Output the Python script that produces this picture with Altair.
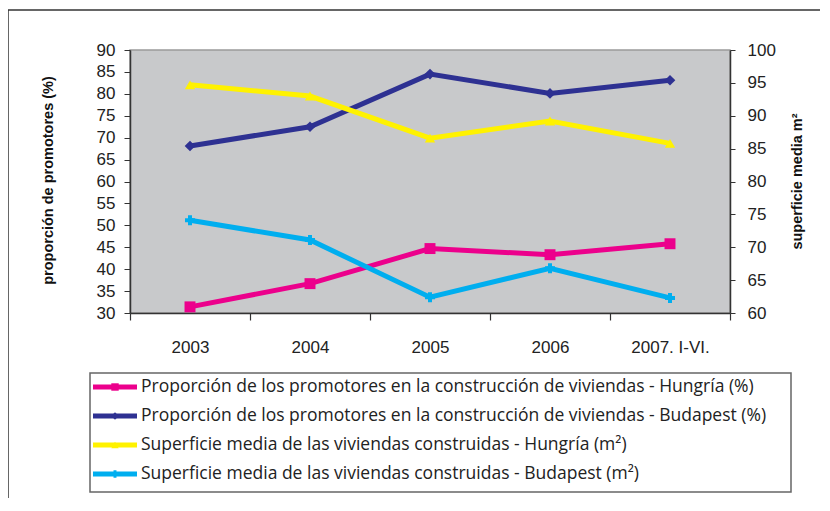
import altair as alt
import pandas as pd

years = ["2003", "2004", "2005", "2006", "2007. I-VI."]
series_names = [
    "Proporción de los promotores en la construcción de viviendas - Hungría (%)",
    "Proporción de los promotores en la construcción de viviendas - Budapest (%)",
    "Superficie media de las viviendas construidas - Hungría (m²)",
    "Superficie media de las viviendas construidas - Budapest (m²)",
]
prop_hungria = [31.4, 36.7, 44.7, 43.3, 45.8]
prop_budapest = [68.1, 72.5, 84.5, 80.1, 83.1]
sup_hungria = [94.7, 93.0, 86.6, 89.2, 85.8]
sup_budapest = [74.1, 71.1, 62.4, 66.8, 62.3]
colors = ["#EC008C", "#2E3192", "#FFF200", "#00AEEF"]
shapes = ["square", "diamond", "triangle-up", "cross"]
marker_sizes = [120, 100, 190, 50]
left_ticks = list(range(30, 91, 5))
right_ticks = list(range(60, 101, 5))

FONT = "Liberation Sans"
TEXT_FONT = "Open Sans"


def long_df(names, arrays):
    rows = []
    for name, arr in zip(names, arrays):
        for y, v in zip(years, arr):
            rows.append({"year": y, "series": name, "value": v})
    return pd.DataFrame(rows)


left_df = long_df(series_names[:2], [prop_hungria, prop_budapest])
right_df = long_df(series_names[2:], [sup_hungria, sup_budapest])
legend_df = pd.DataFrame({"series": series_names, "row": list(range(len(series_names)))})

x_enc = alt.X(
    "year:N",
    sort=years,
    scale=alt.Scale(type="band", paddingInner=0, paddingOuter=0),
    axis=alt.Axis(
        title=None, tickBand="extent", tickSize=7, labelPadding=19, labelFontSize=17,
        labelAngle=0, labelColor="#222", domainColor="#333", tickColor="#333",
        domainWidth=1.5, tickWidth=1.2, labelFont=FONT,
    ),
)
color_enc = alt.Color("series:N", scale=alt.Scale(domain=series_names, range=colors), legend=None)
shape_enc = alt.Shape("series:N", scale=alt.Scale(domain=series_names, range=shapes), legend=None)
size_enc = alt.Size("series:N", scale=alt.Scale(domain=series_names, range=marker_sizes), legend=None)

y_left = alt.Y(
    "value:Q",
    scale=alt.Scale(domain=[30, 90], nice=False, zero=False),
    axis=alt.Axis(
        orient="left", values=left_ticks, grid=False, tickSize=6, labelPadding=9,
        labelFontSize=17, labelColor="#222", labelFont=FONT, domainColor="#333", tickColor="#333",
        domainWidth=1.5, title="proporción de promotores  (%)", titleFontSize=14.5,
        titleFontWeight="bold", titleFont=FONT, titleColor="#111", titleX=-82, titleY=130,
        titleAngle=270, titleAlign="center", titleBaseline="middle",
    ),
)
y_right = alt.Y(
    "value:Q",
    scale=alt.Scale(domain=[60, 100], nice=False, zero=False),
    axis=alt.Axis(
        orient="right", values=right_ticks, grid=False, tickSize=5, labelPadding=12,
        labelFontSize=17, labelColor="#222", labelFont=FONT, domainColor="#333", tickColor="#333",
        domainWidth=1.5, title="superficie media m²", titleFontSize=14.5,
        titleFontWeight="bold", titleFont=FONT, titleColor="#111", titleX=67, titleY=131,
        titleAngle=270, titleAlign="center", titleBaseline="middle",
    ),
)

left_base = alt.Chart(left_df)
left_layer = alt.layer(
    left_base.mark_line(strokeWidth=5).encode(x=x_enc, y=y_left, color=color_enc),
    left_base.mark_point(filled=True, opacity=1).encode(
        x=x_enc, y=y_left, color=color_enc, shape=shape_enc, size=size_enc
    ),
)

right_base = alt.Chart(right_df)
right_layer = alt.layer(
    right_base.mark_line(strokeWidth=5).encode(x=x_enc, y=y_right, color=color_enc),
    right_base.mark_point(filled=True, opacity=1).encode(
        x=x_enc, y=y_right, color=color_enc, shape=shape_enc, size=size_enc
    ),
)

# legend drawn below the plot
leg_y = alt.Y("row:Q", scale=alt.Scale(domain=[0, 3], range=[337, 424]), axis=None)
leg_base = alt.Chart(legend_df)
legend_layer = alt.layer(
    leg_base.mark_rule(strokeWidth=5).encode(
        x=alt.value(-37), x2=alt.value(7), y=leg_y, color=color_enc
    ),
    leg_base.mark_point(filled=True, opacity=1).encode(
        x=alt.value(-15), y=leg_y, color=color_enc, shape=shape_enc,
        size=alt.value(55),
    ),
    leg_base.mark_text(align="left", baseline="middle", fontSize=17.5, font=TEXT_FONT, color="#222").encode(
        x=alt.value(11), y=leg_y, text="series:N"
    ),
)

one = alt.Data(values=[{"k": 1}])
legend_box = alt.Chart(one).mark_rect(fill="white", stroke="#666", strokeWidth=1.5).encode(
    x=alt.value(-40), x2=alt.value(661), y=alt.value(323), y2=alt.value(442)
)
frame_left = alt.Chart(one).mark_rule(color="#333", strokeWidth=1.5).encode(
    x=alt.value(-122), y=alt.value(-40), y2=alt.value(460)
)
frame_top = alt.Chart(one).mark_rule(color="#333", strokeWidth=1.5).encode(
    x=alt.value(-122), x2=alt.value(710), y=alt.value(-40)
)

chart = (
    alt.layer(frame_left, frame_top, legend_box, left_layer, right_layer, legend_layer)
    .resolve_scale(y="independent")
    .properties(
        width=600,
        height=263,
        padding={"left": 122, "top": 42, "right": 90, "bottom": 185},
        autosize=alt.AutoSizeParams(type="none"),
        background="white",
    )
    .configure(font=FONT)
    .configure_view(fill="#C8C9CB", stroke="#9A9A9A", strokeWidth=1.5)
)

chart.save("out.html", embed_options={"renderer": "svg", "actions": False})
